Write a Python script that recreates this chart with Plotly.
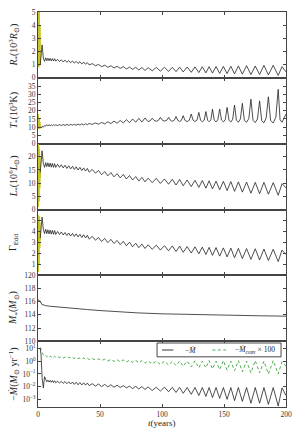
import plotly.graph_objects as go
from plotly.subplots import make_subplots

# ---------------- data ----------------
# early (yellow) phase
t_early = [0.0, 0.15, 0.3, 0.45, 0.6, 0.75, 0.9, 1.05, 1.2, 1.35, 1.5, 1.65, 1.8]
R_early = [5.5, 0.9, 5.5, 0.8, 5.5, 1.0, 5.5, 0.9, 4.5, 1.1, 4.0, 1.2, 1.0]
T_early = [18, 9.5, 17, 9, 16, 9.5, 15, 9, 14, 10, 13, 9.5, 10]
L_early = [26, 1, 25, 2, 24, 3, 23, 5, 22, 8, 20, 12, 14]
G_early = [5.5, 0.3, 5.5, 0.5, 5.4, 1.0, 5.3, 1.5, 5.0, 2.5, 4.8, 3.2, 3.4]

# main phase (black)
t_main = [1.8, 2.5, 3.3, 4.3, 5.3, 6.2, 7.1, 8.0, 8.9, 9.8, 10.7, 11.6, 12.5, 13.4, 14.3,
          15.8, 17.3, 18.8, 20.3, 21.8, 23.3, 24.8, 26.3, 27.8, 29.3, 30.8, 32.3, 33.8, 35.3,
          36.8, 38.3, 39.8, 41.3, 43.8, 46.3, 48.8, 51.3, 53.8, 56.3, 58.8, 61.3, 63.8, 66.3,
          68.8, 71.3, 73.8, 76.3, 78.8, 81.3, 83.8, 86.3, 88.8, 92.1, 95.4, 98.7, 102.0, 105.3,
          108.3, 111.3, 114.2, 117.1, 120.3, 123.6, 126.6, 129.7, 132.5, 135.4, 138.0, 140.7,
          143.6, 146.5, 149.5, 152.5, 155.5, 158.5, 161.6, 164.8, 168.2, 171.7, 175.2, 178.7,
          182.2, 185.8, 189.7, 193.7, 196.8, 200.0]

R_main = [1.0, 1.7, 2.5, 1.5, 1.25, 1.52, 1.30, 1.50, 1.30, 1.48, 1.28, 1.46, 1.28, 1.45, 1.27,
          1.40, 1.24, 1.37, 1.21, 1.34, 1.18, 1.31, 1.15, 1.28, 1.12, 1.25, 1.09, 1.22, 1.06,
          1.19, 1.03, 1.16, 0.98, 1.08, 0.92, 1.02, 0.85, 0.96, 0.80, 0.92, 0.75, 0.88, 0.71,
          0.85, 0.67, 0.82, 0.64, 0.80, 0.60, 0.78, 0.56, 0.77, 0.53, 0.79, 0.51, 0.80, 0.49,
          0.80, 0.47, 0.81, 0.45, 0.82, 0.42, 0.83, 0.40, 0.84, 0.38, 0.85, 0.36, 0.86, 0.34,
          0.87, 0.32, 0.88, 0.30, 0.90, 0.28, 0.92, 0.25, 0.90, 0.25, 0.95, 0.22, 0.95, 0.18,
          0.85, 0.45]

# temperature: shared grid up to 88.8 yr, then its own finer grid (narrow peaks)
t_T = [1.8, 2.5, 3.3, 4.3, 5.3, 6.2, 7.1, 8.0, 8.9, 9.8, 10.7, 11.6, 12.5, 13.4, 14.3,
       15.8, 17.3, 18.8, 20.3, 21.8, 23.3, 24.8, 26.3, 27.8, 29.3, 30.8, 32.3, 33.8, 35.3,
       36.8, 38.3, 39.8, 41.3, 43.8, 46.3, 48.8, 51.3, 53.8, 56.3, 58.8, 61.3, 63.8, 66.3,
       68.8, 71.3, 73.8, 76.3, 78.8, 81.3, 83.8, 86.3, 88.8,
       90.6, 92.1, 93.6, 95.4, 97.2, 98.7, 100.2, 102.0, 103.8, 105.3, 106.8, 108.3,
       109.9, 111.3, 112.7, 114.2, 115.7, 117.1, 118.6, 120.3, 122.0, 123.6, 125.1, 126.6,
       128.2, 129.7, 131.1, 132.5, 134.0, 135.4, 136.8, 138.0, 139.4, 140.7, 142.1, 143.6,
       145.0, 146.5, 148.0, 149.5, 151.0, 152.5, 154.0, 155.5, 157.0, 158.5, 160.0, 161.6,
       163.2, 164.8, 166.4, 168.2, 170.0, 171.7, 173.4, 175.2, 177.0, 178.7, 180.4, 182.2,
       184.0, 185.8, 187.6, 189.7, 191.8, 193.7, 195.2, 196.8, 200.0]
T_vals = [10.0, 9.5, 10.5, 10.0, 11.0, 10.8, 11.4, 10.9, 11.5, 10.9, 11.5, 10.9, 11.5, 11.0, 11.5,
          11.0, 11.6, 11.0, 11.6, 11.1, 11.7, 11.1, 11.7, 11.2, 11.8, 11.2, 11.9, 11.3, 12.0,
          11.4, 12.1, 11.5, 12.3, 11.7, 12.6, 11.8, 12.9, 12.0, 13.3, 12.2, 13.7, 12.4, 14.1,
          12.6, 14.6, 12.8, 15.0, 13.0, 15.4, 13.2, 15.6, 13.4,
          14.0, 15.5, 14.2, 13.6, 14.2, 16.0, 14.3, 13.7, 14.2, 16.0, 14.2, 13.6,
          14.2, 16.5, 14.2, 13.5, 14.2, 17.0, 14.1, 13.4, 14.2, 18.0, 14.2, 13.4,
          14.3, 19.0, 14.2, 13.3, 14.3, 19.5, 14.2, 13.3, 14.5, 21.0, 14.3, 13.2,
          14.5, 21.0, 14.3, 13.2, 14.6, 22.0, 14.3, 13.1, 14.8, 23.5, 14.3, 13.0,
          15.0, 24.5, 14.2, 13.0, 15.2, 27.0, 14.2, 12.8, 15.0, 26.0, 14.0, 12.7,
          15.5, 28.5, 14.0, 12.6, 16.0, 33.0, 14.5, 13.0, 18.0]

L_main = [14.0, 18.0, 22.3, 17.5, 16.0, 17.8, 16.3, 17.7, 16.2, 17.6, 16.1, 17.5, 16.0, 17.4, 16.0,
          17.2, 16.0, 17.0, 15.8, 16.8, 15.6, 16.6, 15.4, 16.4, 15.2, 16.2, 15.0, 16.0, 14.8,
          15.8, 14.6, 15.6, 14.2, 15.2, 13.8, 14.8, 13.2, 14.4, 12.8, 14.0, 12.4, 13.6, 12.0,
          13.3, 11.6, 12.9, 11.2, 12.5, 10.8, 12.2, 10.5, 11.9, 10.2, 11.8, 9.9, 11.6, 9.6,
          11.5, 9.3, 11.4, 9.0, 11.2, 8.7, 11.1, 8.4, 11.0, 8.1, 10.9, 7.8, 10.8, 7.5,
          10.7, 7.2, 10.6, 6.9, 10.5, 6.6, 10.4, 6.2, 10.3, 6.0, 10.3, 5.8, 10.2, 5.4,
          9.8, 8.2]

G_main = [3.4, 4.3, 5.3, 4.2, 3.8, 4.2, 3.8, 4.15, 3.78, 4.12, 3.76, 4.1, 3.74, 4.08, 3.72,
          4.0, 3.72, 3.95, 3.68, 3.9, 3.63, 3.86, 3.58, 3.82, 3.54, 3.78, 3.5, 3.74, 3.45,
          3.7, 3.4, 3.65, 3.3, 3.55, 3.2, 3.45, 3.08, 3.36, 2.98, 3.27, 2.9, 3.18, 2.8,
          3.1, 2.7, 3.02, 2.6, 2.93, 2.52, 2.85, 2.45, 2.78, 2.38, 2.75, 2.3, 2.7, 2.24,
          2.68, 2.17, 2.66, 2.1, 2.62, 2.03, 2.6, 1.96, 2.57, 1.9, 2.55, 1.82, 2.53, 1.75,
          2.5, 1.68, 2.48, 1.6, 2.46, 1.53, 2.44, 1.45, 2.42, 1.4, 2.4, 1.35, 2.38, 1.25,
          2.3, 1.9]

Mdot_main = [10.0, 3.0, 0.05, 0.008, 0.06, 0.035, 0.024, 0.032, 0.023, 0.031, 0.022, 0.030, 0.021, 0.029, 0.020,
             0.027, 0.019, 0.026, 0.018, 0.025, 0.017, 0.024, 0.016, 0.023, 0.015, 0.022, 0.014, 0.021, 0.0135,
             0.020, 0.013, 0.019, 0.012, 0.017, 0.011, 0.016, 0.010, 0.015, 0.0095, 0.014, 0.009, 0.013, 0.0085,
             0.012, 0.008, 0.011, 0.007, 0.0105, 0.0065, 0.010, 0.006, 0.0095, 0.005, 0.009, 0.0045, 0.009, 0.004,
             0.0088, 0.0035, 0.0088, 0.003, 0.0086, 0.0025, 0.0086, 0.002, 0.0085, 0.0017, 0.0085, 0.0014, 0.0085, 0.0012,
             0.0085, 0.001, 0.0085, 0.0008, 0.0085, 0.0007, 0.0085, 0.0005, 0.0085, 0.0005, 0.0085, 0.0004, 0.0085, 0.0003,
             0.008, 0.002]

Mconv_main = [12, 8, 4.5, 3.0, 2.4, 2.7, 2.2, 2.6, 2.1, 2.5, 2.1, 2.5, 2.0, 2.4, 2.0,
              2.3, 1.9, 2.2, 1.8, 2.1, 1.75, 2.0, 1.7, 1.95, 1.6, 1.9, 1.55, 1.8, 1.5,
              1.75, 1.45, 1.7, 1.35, 1.6, 1.25, 1.5, 1.15, 1.4, 1.05, 1.35, 0.95, 1.3, 0.9,
              1.25, 0.85, 1.2, 0.8, 1.15, 0.75, 1.1, 0.7, 1.05, 0.6, 1.0, 0.55, 1.0, 0.5,
              0.95, 0.45, 1.0, 0.4, 1.0, 0.35, 1.05, 0.3, 1.0, 0.3, 1.1, 0.25, 1.0, 0.22,
              1.1, 0.2, 1.0, 0.18, 1.1, 0.15, 1.0, 0.12, 1.1, 0.12, 1.0, 0.1, 1.1, 0.1,
              0.9, 0.4]

t_mass = [0, 1, 2, 3, 4, 6, 10, 15, 20, 30, 40, 50, 60, 80, 100, 120, 140, 160, 180, 200]
M_mass = [116.3, 116.2, 116.0, 115.6, 115.5, 115.4, 115.3, 115.2, 115.1, 114.95, 114.8, 114.65,
          114.5, 114.3, 114.15, 114.05, 113.95, 113.9, 113.85, 113.8]

x_ticks = [0, 50, 100, 150, 200]
R_ticks = [0, 1, 2, 3, 4, 5]
T_ticks = [0, 5, 10, 15, 20, 25, 30, 35]
L_ticks = [0, 5, 10, 15, 20]
G_ticks = [1, 2, 3, 4, 5]
M_ticks = [110, 112, 114, 116, 118, 120]
Mdot_tickvals = [1e-3, 1e-2, 1e-1, 1e0, 1e1]
Mdot_ticktext = ["10<sup>−3</sup>", "10<sup>−2</sup>", "10<sup>−1</sup>", "10<sup>0</sup>", "10<sup>1</sup>"]

y_titles = ["<i>R</i><sub>*</sub>(10<sup>3</sup><i>R</i><sub>⊙</sub>)",
            "<i>T</i><sub>*</sub>(10<sup>3</sup>K)",
            "<i>L</i><sub>*</sub>(10<sup>6</sup><i>L</i><sub>⊙</sub>)",
            "Γ<sub>Edd</sub>",
            "<i>M</i><sub>*</sub>(<i>M</i><sub>⊙</sub>)",
            "−<i>Ṁ</i>(<i>M</i><sub>⊙</sub> yr<sup>−1</sup>)"]
legend_labels = ["−<i>Ṁ</i>", "−<i>Ṁ</i><sub>conv</sub> × 100"]

# ---------------- figure ----------------
FONT = "Liberation Serif"
BLACK = "#222222"
YELLOW = "#c8c428"
GREEN = "#3aa13a"
AX = "#444444"

fig = make_subplots(rows=6, cols=1, shared_xaxes=True, vertical_spacing=0)

early_sets = [R_early, T_early, L_early, G_early]
main_x = [t_main, t_T, t_main, t_main]
main_sets = [R_main, T_vals, L_main, G_main]
for i in range(4):
    fig.add_trace(go.Scatter(x=t_early, y=early_sets[i], mode="lines",
                             line=dict(color=YELLOW, width=1.8), showlegend=False),
                  row=i + 1, col=1)
    fig.add_trace(go.Scatter(x=main_x[i], y=main_sets[i], mode="lines",
                             line=dict(color=BLACK, width=0.8), showlegend=False),
                  row=i + 1, col=1)

fig.add_trace(go.Scatter(x=t_mass, y=M_mass, mode="lines",
                         line=dict(color=BLACK, width=0.8), showlegend=False), row=5, col=1)

fig.add_trace(go.Scatter(x=t_main, y=Mdot_main, mode="lines", name=legend_labels[0],
                         line=dict(color=BLACK, width=0.8), showlegend=False), row=6, col=1)
fig.add_trace(go.Scatter(x=t_main, y=Mconv_main, mode="lines", name=legend_labels[1],
                         line=dict(color=GREEN, width=0.9, dash="3px,2.5px"),
                         showlegend=False), row=6, col=1)

common_axis = dict(showline=True, linecolor=AX, linewidth=1, mirror="allticks",
                   ticks="inside", ticklen=3, tickcolor=AX, tickwidth=0.7,
                   showgrid=False, zeroline=False,
                   tickfont=dict(family=FONT, size=7.5, color="#333"))

for r in range(1, 7):
    fig.update_xaxes(range=[0, 200], tickvals=x_ticks, showticklabels=(r == 6),
                     row=r, col=1, **common_axis)

fig.update_yaxes(range=[0, 5], tickvals=R_ticks, row=1, col=1, **common_axis)
fig.update_yaxes(range=[0, 40], tickvals=T_ticks, row=2, col=1, **common_axis)
fig.update_yaxes(range=[0, 25], tickvals=L_ticks, row=3, col=1, **common_axis)
fig.update_yaxes(range=[0, 6], tickvals=G_ticks, row=4, col=1, **common_axis)
fig.update_yaxes(range=[110, 120], tickvals=M_ticks, row=5, col=1, **common_axis)
fig.update_yaxes(type="log", range=[-3.6, 1.57], tickvals=Mdot_tickvals,
                 ticktext=Mdot_ticktext, row=6, col=1, **common_axis)

# y-axis titles as rotated annotations
for i, title in enumerate(y_titles):
    dom = fig.layout["yaxis" + ("" if i == 0 else str(i + 1))].domain
    fig.add_annotation(text=title, xref="paper", yref="paper",
                       x=-0.098, y=(dom[0] + dom[1]) / 2, textangle=-90,
                       showarrow=False, xanchor="center", yanchor="middle",
                       font=dict(family=FONT, size=10, color="#222"))

fig.add_annotation(text="<i>t</i>(years)", xref="paper", yref="paper",
                   x=0.5, y=-0.041, showarrow=False, xanchor="center", yanchor="middle",
                   font=dict(family=FONT, size=9, color="#222"))

# legend box (drawn manually to get matplotlib-like compact size)
LEG_Y = 0.1443
fig.add_shape(type="rect", xref="paper", yref="paper", x0=0.480, x1=0.980, y0=0.127, y1=0.162,
              line=dict(color="#333", width=0.9), fillcolor="white", layer="above")
fig.add_shape(type="line", xref="paper", yref="paper", x0=0.500, x1=0.546, y0=LEG_Y, y1=LEG_Y,
              line=dict(color=BLACK, width=0.9), layer="above")
fig.add_shape(type="line", xref="paper", yref="paper", x0=0.703, x1=0.758, y0=LEG_Y, y1=LEG_Y,
              line=dict(color=GREEN, width=0.9, dash="3px,2.5px"), layer="above")
fig.add_annotation(text=legend_labels[0], xref="paper", yref="paper", x=0.583, y=LEG_Y,
                   xanchor="left", yanchor="middle", showarrow=False,
                   font=dict(family=FONT, size=7.5, color="#222"))
fig.add_annotation(text=legend_labels[1], xref="paper", yref="paper", x=0.787, y=LEG_Y,
                   xanchor="left", yanchor="middle", showarrow=False,
                   font=dict(family=FONT, size=7.5, color="#222"))

fig.update_layout(
    width=299, height=428,
    margin=dict(l=38, r=7, t=12, b=21),
    paper_bgcolor="white", plot_bgcolor="white",
    font=dict(family=FONT, size=8, color="#222"),
    showlegend=False,
)

fig.write_html("out.html", config={"displayModeBar": False},
               post_script="document.body.style.margin='0';document.body.style.overflow='hidden';")
